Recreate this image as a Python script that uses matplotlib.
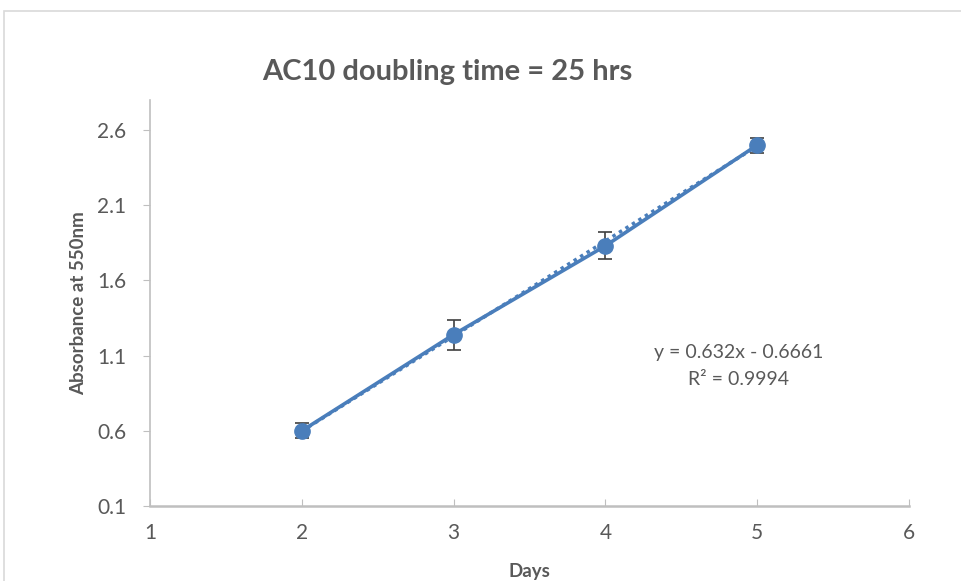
import matplotlib.pyplot as plt
from matplotlib.patches import Rectangle

# Absorbance readings per day with error bars
days = [2, 3, 4, 5]
absorbance = [0.60, 1.24, 1.83, 2.50]
abs_err = [0.05, 0.10, 0.09, 0.05]

# Linear trendline coefficients (from the fitted equation)
slope = 0.632
intercept = -0.6661
r_squared = 0.9994

x_ticks = [1, 2, 3, 4, 5, 6]
y_ticks = [0.1, 0.6, 1.1, 1.6, 2.1, 2.6]

blue = "#4A7EBB"
grey_text = "#595959"
axis_grey = "#BFBFBF"

plt.rcParams["font.family"] = ["Lato", "DejaVu Sans"]

fig = plt.figure(figsize=(9.61, 5.81), dpi=100)
ax = fig.add_axes([150 / 961, 1 - 506 / 581, 759 / 961, 406 / 581])

# outer chart-area border
fig.patches.append(Rectangle((4 / 961, -0.1), 1.2, 1 - 11 / 581 + 0.1, transform=fig.transFigure,
                             fill=False, edgecolor="#D9D9D9", linewidth=1.2))

trend_x = [days[0], days[-1]]
trend_y = [slope * x + intercept for x in trend_x]
ax.plot(trend_x, trend_y, color=blue, linewidth=2.5, linestyle=(0, (1, 1.2)), zorder=2)

ax.errorbar(days, absorbance, yerr=abs_err, color=blue, linewidth=2.6, marker="o",
            markersize=11, ecolor="#404040", elinewidth=1.2, capsize=5, capthick=1.2, zorder=3)

ax.set_xlim(1, 6)
ax.set_ylim(0.1, 2.8)
ax.set_xticks(x_ticks)
ax.set_yticks(y_ticks)
ax.set_yticklabels([f"{v:.1f}" for v in y_ticks])

for side in ["top", "right"]:
    ax.spines[side].set_visible(False)
ax.spines["left"].set_color(axis_grey)
ax.spines["bottom"].set_color(axis_grey)
ax.spines["left"].set_linewidth(1.2)
ax.spines["bottom"].set_linewidth(1.8)
ax.tick_params(axis="x", direction="in", length=5, color=axis_grey, labelsize=15,
               labelcolor=grey_text, pad=12)
ax.tick_params(axis="y", direction="out", length=5, color=axis_grey, labelsize=15,
               labelcolor=grey_text, pad=12)

ax.set_xlabel("Days", fontsize=13.5, fontweight="bold", color=grey_text, labelpad=15)
ax.set_ylabel("Absorbance at 550nm", fontsize=13.5, fontweight="bold", color=grey_text, labelpad=7)

fig.text(447 / 961, 1 - 72 / 581, "AC10 doubling time = 25 hrs", fontsize=21, fontweight="bold",
         color=grey_text, ha="center", va="center")

ax.text(0.775, 0.345, f"y = {slope}x - {abs(intercept)}\nR² = {r_squared}", transform=ax.transAxes,
        fontsize=14, color=grey_text, ha="center", va="center", linespacing=1.7)

fig.savefig("out.png", dpi=100)
